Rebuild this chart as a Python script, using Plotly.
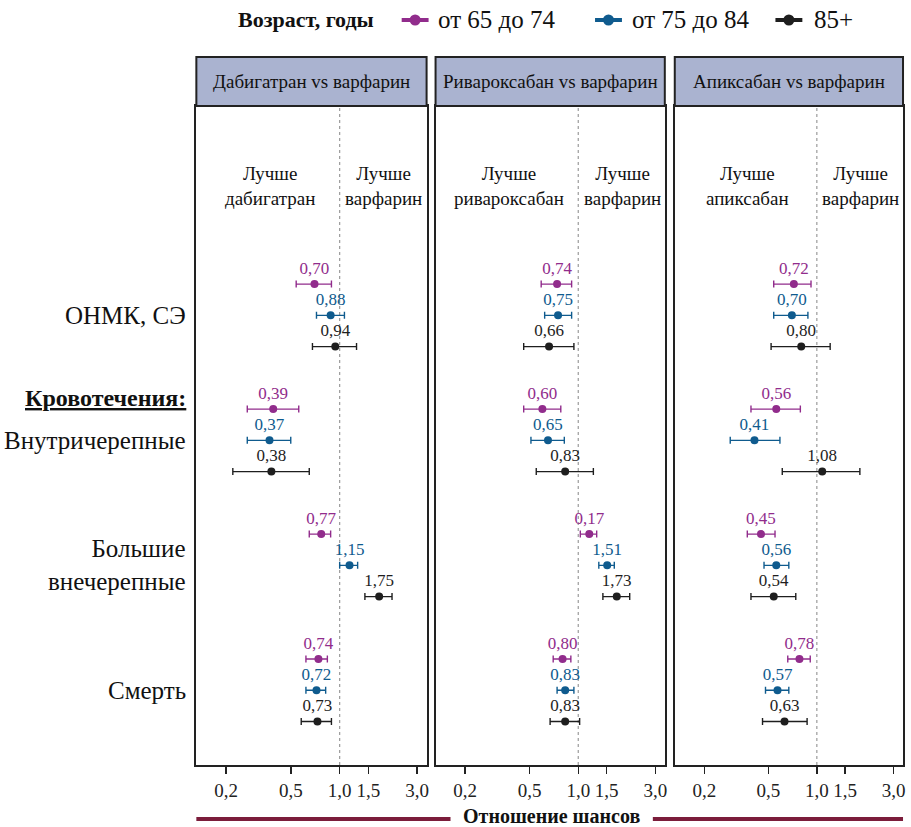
import math
import plotly.graph_objects as go

# ---------------- data ----------------
outcomes = ["ОНМК, СЭ", "Внутричерепные", "Большие<br>внечерепные", "Смерть"]
bleeding_header = "Кровотечения:"
age_groups = ["от 65 до 74", "от 75 до 84", "85+"]
comparisons = ["Дабигатран vs варфарин", "Ривароксабан vs варфарин", "Апиксабан vs варфарин"]
better_drug = ["Лучше<br>дабигатран", "Лучше<br>ривароксабан", "Лучше<br>апиксабан"]
better_warfarin = "Лучше<br>варфарин"
x_title = "Отношение шансов"
legend_title = "Возраст, годы"
tick_vals = [0.2, 0.5, 1.0, 1.5, 3.0]
tick_text = ["0,2", "0,5", "1,0", "1,5", "3,0"]

# odds ratios per outcome (ОНМК, внутричерепные, большие внечерепные, смерть)
dabi_or_65 = [0.70, 0.39, 0.77, 0.74]
dabi_lo_65 = [0.54, 0.27, 0.65, 0.62]
dabi_hi_65 = [0.89, 0.56, 0.88, 0.84]
dabi_or_75 = [0.88, 0.37, 1.15, 0.72]
dabi_lo_75 = [0.72, 0.27, 1.00, 0.62]
dabi_hi_75 = [1.07, 0.50, 1.29, 0.82]
dabi_or_85 = [0.94, 0.38, 1.75, 0.73]
dabi_lo_85 = [0.68, 0.22, 1.43, 0.58]
dabi_hi_85 = [1.27, 0.65, 2.10, 0.89]

riva_or_65 = [0.74, 0.60, 1.17, 0.80]
riva_lo_65 = [0.59, 0.46, 1.03, 0.70]
riva_hi_65 = [0.91, 0.78, 1.30, 0.90]
riva_or_75 = [0.75, 0.65, 1.51, 0.83]
riva_lo_75 = [0.62, 0.51, 1.34, 0.74]
riva_hi_75 = [0.91, 0.82, 1.67, 0.94]
riva_or_85 = [0.66, 0.83, 1.73, 0.83]
riva_lo_85 = [0.46, 0.55, 1.42, 0.67]
riva_hi_85 = [0.94, 1.24, 2.08, 1.02]

apix_or_65 = [0.72, 0.56, 0.45, 0.78]
apix_lo_65 = [0.54, 0.39, 0.37, 0.66]
apix_hi_65 = [0.92, 0.79, 0.55, 0.91]
apix_or_75 = [0.70, 0.41, 0.56, 0.57]
apix_lo_75 = [0.54, 0.29, 0.47, 0.48]
apix_hi_75 = [0.88, 0.59, 0.67, 0.67]
apix_or_85 = [0.80, 1.08, 0.54, 0.63]
apix_lo_85 = [0.52, 0.61, 0.39, 0.46]
apix_hi_85 = [1.21, 1.85, 0.74, 0.87]

# value labels as printed in the source
dabi_lab_65 = ["0,70", "0,39", "0,77", "0,74"]
dabi_lab_75 = ["0,88", "0,37", "1,15", "0,72"]
dabi_lab_85 = ["0,94", "0,38", "1,75", "0,73"]
riva_lab_65 = ["0,74", "0,60", "0,17", "0,80"]
riva_lab_75 = ["0,75", "0,65", "1,51", "0,83"]
riva_lab_85 = ["0,66", "0,83", "1,73", "0,83"]
apix_lab_65 = ["0,72", "0,56", "0,45", "0,78"]
apix_lab_75 = ["0,70", "0,41", "0,56", "0,57"]
apix_lab_85 = ["0,80", "1,08", "0,54", "0,63"]

panels = [
    [(dabi_or_65, dabi_lo_65, dabi_hi_65, dabi_lab_65),
     (dabi_or_75, dabi_lo_75, dabi_hi_75, dabi_lab_75),
     (dabi_or_85, dabi_lo_85, dabi_hi_85, dabi_lab_85)],
    [(riva_or_65, riva_lo_65, riva_hi_65, riva_lab_65),
     (riva_or_75, riva_lo_75, riva_hi_75, riva_lab_75),
     (riva_or_85, riva_lo_85, riva_hi_85, riva_lab_85)],
    [(apix_or_65, apix_lo_65, apix_hi_65, apix_lab_65),
     (apix_or_75, apix_lo_75, apix_hi_75, apix_lab_75),
     (apix_or_85, apix_lo_85, apix_hi_85, apix_lab_85)],
]

# ---------------- styling ----------------
W, H = 911, 827
FONT = "Liberation Serif"
colors = ["#912C8C", "#0F5B8E", "#1E1E1E"]
frame = "#222222"
header_fill = "#AAB3D0"
maroon = "#7B1D3B"

px_x = [(197, 428), (437, 667), (677, 906)]
plot_top, plot_bot = 106, 765
header_top = 57
xr = [-0.882, 0.535]
yr = [15.39, -5.70]


def fx(p):
    return p / W


def fy(p):
    return 1 - p / H


fig = go.Figure()
layout_axes = {}
annotations = []
shapes = []

for k, panel in enumerate(panels):
    sfx = "" if k == 0 else str(k + 1)
    xa, ya = "x" + sfx, "y" + sfx
    dom_x = [fx(px_x[k][0]), fx(px_x[k][1])]
    dom_y = [fy(plot_bot), fy(plot_top)]

    # reference line at OR = 1
    fig.add_trace(go.Scatter(
        x=[1, 1], y=yr, mode="lines", xaxis=xa, yaxis=ya,
        line=dict(color="#9A9A9A", width=1.2, dash="dot"),
        showlegend=False, hoverinfo="skip"))

    for i, (orv, lo, hi, lab) in enumerate(panel):
        ys = [g * 4 + i for g in range(len(orv))]
        fig.add_trace(go.Scatter(
            x=orv, y=ys, xaxis=xa, yaxis=ya,
            mode="markers+text", text=lab, textposition="top center",
            textfont=dict(family=FONT, size=17, color=colors[i]),
            marker=dict(size=8, color=colors[i]),
            error_x=dict(type="data", symmetric=False,
                         array=[h - o for h, o in zip(hi, orv)],
                         arrayminus=[o - l for o, l in zip(orv, lo)],
                         color=colors[i], thickness=1.4, width=3.5),
            showlegend=False, name=age_groups[i]))

    layout_axes["xaxis" + sfx] = dict(
        type="log", range=xr, domain=dom_x, anchor=ya,
        tickvals=tick_vals, ticktext=tick_text, ticks="outside",
        ticklen=7, tickwidth=1.5, tickcolor=frame,
        tickfont=dict(family=FONT, size=19, color="#222"),
        showline=True, mirror=True, linewidth=2, linecolor=frame,
        showgrid=False, zeroline=False)
    layout_axes["yaxis" + sfx] = dict(
        range=yr, domain=dom_y, anchor=xa, showticklabels=False,
        ticks="", showline=True, mirror=True, linewidth=2,
        linecolor=frame, showgrid=False, zeroline=False)

    # header box
    shapes.append(dict(type="rect", xref="paper", yref="paper",
                       x0=dom_x[0], x1=dom_x[1], y0=fy(plot_top), y1=fy(header_top),
                       fillcolor=header_fill, line=dict(color=frame, width=2)))
    annotations.append(dict(text=comparisons[k], xref="paper", yref="paper",
                            x=(dom_x[0] + dom_x[1]) / 2, y=(fy(plot_top) + fy(header_top)) / 2,
                            showarrow=False, xanchor="center", yanchor="middle",
                            font=dict(family=FONT, size=19, color="#111")))
    # "better" annotations
    annotations.append(dict(text=better_drug[k], xref=xa + " domain", yref=ya + " domain",
                            x=0.32, y=0.878, showarrow=False, xanchor="center",
                            yanchor="middle", align="center",
                            font=dict(family=FONT, size=19, color="#111")))
    annotations.append(dict(text=better_warfarin, xref=xa + " domain", yref=ya + " domain",
                            x=0.815, y=0.878, showarrow=False, xanchor="center",
                            yanchor="middle", align="center",
                            font=dict(family=FONT, size=19, color="#111")))

# outcome labels at left (aligned with y scale of first panel)
for g, name in enumerate(outcomes):
    annotations.append(dict(text=name, xref="paper", yref="y", x=fx(189), y=g * 4 + 1,
                            showarrow=False, xanchor="right", yanchor="middle",
                            align="right",
                            font=dict(family=FONT, size=25, color="#111")))
annotations.append(dict(text="<b><u>" + bleeding_header + "</u></b>", xref="paper", yref="y",
                        x=fx(189), y=4 - 0.35, showarrow=False, xanchor="right",
                        yanchor="middle", font=dict(family=FONT, size=24, color="#111")))

# legend (manual)
ly = fy(20)
annotations.append(dict(text="<b>" + legend_title + "</b>", xref="paper", yref="paper",
                        x=fx(237), y=ly, showarrow=False, xanchor="left", yanchor="middle",
                        font=dict(family=FONT, size=22, color="#111")))
leg_sym = [(403, 437), (597, 632), (778, 815)]
for i, (sx, tx) in enumerate(leg_sym):
    shapes.append(dict(type="line", xref="paper", yref="paper",
                       x0=fx(sx), x1=fx(sx + 27), y0=ly, y1=ly,
                       line=dict(color=colors[i], width=4)))
    shapes.append(dict(type="circle", xref="paper", yref="paper",
                       xsizemode="pixel", ysizemode="pixel",
                       xanchor=fx(sx + 13.5), yanchor=ly, x0=-5.5, x1=5.5, y0=-5.5, y1=5.5,
                       fillcolor=colors[i], line=dict(color=colors[i], width=0)))
    annotations.append(dict(text=age_groups[i], xref="paper", yref="paper",
                            x=fx(tx), y=ly, showarrow=False, xanchor="left",
                            yanchor="middle",
                            font=dict(family=FONT, size=25, color="#111")))

# x title with maroon rules
ty = fy(816)
annotations.append(dict(text="<b>" + x_title + "</b>", xref="paper", yref="paper",
                        x=fx(553), y=ty, showarrow=False, xanchor="center", yanchor="middle",
                        font=dict(family=FONT, size=20, color="#111")))
shapes.append(dict(type="line", xref="paper", yref="paper", x0=fx(197), x1=fx(452),
                   y0=fy(819), y1=fy(819), line=dict(color=maroon, width=4)))
shapes.append(dict(type="line", xref="paper", yref="paper", x0=fx(655), x1=fx(906),
                   y0=fy(819), y1=fy(819), line=dict(color=maroon, width=4)))

fig.update_layout(
    width=W, height=H, autosize=False,
    margin=dict(l=0, r=0, t=0, b=0),
    paper_bgcolor="white", plot_bgcolor="white",
    font=dict(family=FONT, color="#111"),
    showlegend=False, hovermode=False,
    annotations=annotations, shapes=shapes,
    **layout_axes,
)

fig.write_html(
    "out.html",
    config={"displayModeBar": False, "staticPlot": True},
    post_script="document.body.style.margin='0';document.body.style.overflow='hidden';",
)
